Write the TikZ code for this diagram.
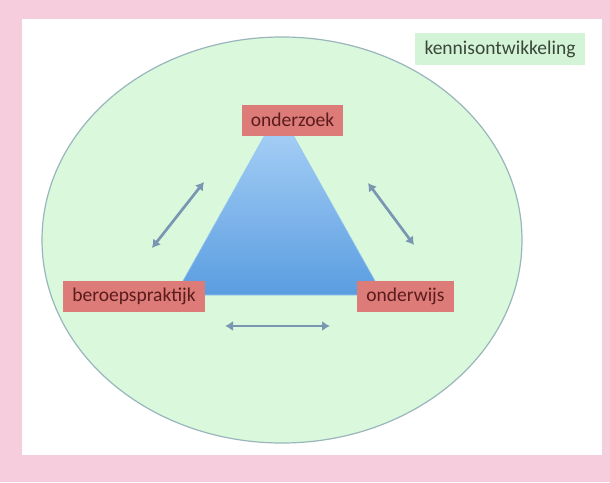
\documentclass[tikz,border=0pt]{standalone}
\usepackage{fontspec}
\setmainfont{Carlito}
\usetikzlibrary{arrows.meta}

\definecolor{rimpink}{HTML}{F5CDDD}
\definecolor{ovalgreen}{HTML}{D9F8DC}
\definecolor{ovalrim}{HTML}{9AB6BC}
\definecolor{boxred}{HTML}{DC7B78}
\definecolor{boxtext}{HTML}{5A1C1C}
\definecolor{labelgreen}{HTML}{D3F4D6}
\definecolor{labeltext}{HTML}{3A463A}
\definecolor{arrowblue}{HTML}{7A97B2}
\definecolor{tritop}{HTML}{AED4F8}
\definecolor{tribottom}{HTML}{5A9DE0}

\begin{document}
\begin{tikzpicture}[x=1pt,y=1pt]
\tikzstyle{every node}+=[inner sep=0pt]
\tikzstyle{rolebox}=[fill=boxred, text=boxtext, minimum height=31pt, font=\fontsize{19.5}{19.5}\selectfont]
\tikzstyle{twoway}=[arrowblue, line width=2.7pt, {Latex[length=8pt,width=10pt]}-{Latex[length=8pt,width=10pt]}]
\useasboundingbox (0,0) rectangle (610,-482);
\fill [rimpink] (0,0) rectangle (610,-482);
\fill [white] (22,-19) rectangle (602,-455);
\draw [ovalrim, fill=ovalgreen, line width=1.2pt] (282,-240) ellipse (240 and 203);
\shade [top color=tritop, bottom color=tribottom] (279,-110) -- (175,-295) -- (383,-295) -- cycle;
\draw [tritop!70!tribottom, line width=0.6pt] (279,-110) -- (175,-295) -- (383,-295) -- cycle;
\node [rolebox, minimum width=101pt] (onderzoek) at (292.5,-120) {onderzoek};
\node [rolebox, minimum width=142pt] (praktijk) at (134,-296.5) {beroepspraktijk};
\node [rolebox, minimum width=97pt] (onderwijs) at (405.5,-296.5) {onderwijs};
\node [fill=labelgreen, text=labeltext, minimum width=170pt, minimum height=32pt, font=\fontsize{19.5}{19.5}\selectfont] (kennis) at (500,-49) {kennisontwikkeling};
% pijlen
\coordinate (l1) at (204,-182);
\coordinate (l2) at (152,-248);
\coordinate (r1) at (368,-183);
\coordinate (r2) at (414,-245);
\coordinate (b1) at (225,-326);
\coordinate (b2) at (330,-326);
\draw [twoway] (l1) -- (l2);
\draw [twoway] (r1) -- (r2);
\draw [twoway] (b1) -- (b2);
\end{tikzpicture}
\end{document}
